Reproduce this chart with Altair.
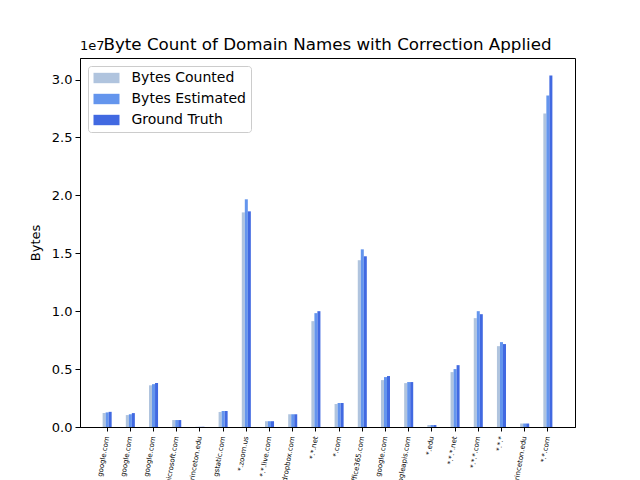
import json
import altair as alt
import pandas as pd

domains = ["google.com", "google.com", "google.com", "microsoft.com", "princeton.edu",
           "gstatic.com", "*.zoom.us", "*.*.live.com", "dropbox.com", "*.*.net",
           "*.com", "office365.com", "google.com", "googleapis.com", "*.edu",
           "*.*.*.net", "*.*.*.com", "*.*.*", "princeton.edu", "*.*.com"]
bytes_counted = [0.121, 0.103, 0.36, 0.06, 0.002, 0.13, 1.853, 0.05, 0.11, 0.914,
                 0.198, 1.44, 0.405, 0.379, 0.017, 0.474, 0.94, 0.698, 0.03, 2.707]
bytes_estimated = [0.126, 0.11, 0.37, 0.06, 0.002, 0.138, 1.966, 0.05, 0.11, 0.983,
                   0.207, 1.534, 0.431, 0.388, 0.017, 0.50, 1.0, 0.733, 0.03, 2.862]
ground_truth = [0.131, 0.12, 0.38, 0.06, 0.002, 0.138, 1.862, 0.05, 0.11, 1.0,
                0.207, 1.474, 0.44, 0.388, 0.017, 0.534, 0.974, 0.716, 0.03, 3.034]
series = ["Bytes Counted", "Bytes Estimated", "Ground Truth"]
colors = ["#B0C4DE", "#6495ED", "#4169E1"]
title_text = "Byte Count of Domain Names with Correction Applied"

rows = []
for i in range(len(domains)):
    for s, vals in zip(series, [bytes_counted, bytes_estimated, ground_truth]):
        rows.append({"idx": i, "series": s, "bytes": vals[i] * 1e7})
df = pd.DataFrame(rows)

font = "DejaVu Sans"
label_expr = json.dumps(domains) + "[datum.value]"
W, H = 495, 369

bars = alt.Chart(df).mark_bar().encode(
    x=alt.X("idx:N", sort=list(range(len(domains))),
            scale=alt.Scale(paddingInner=0.61, paddingOuter=0.975),
            axis=alt.Axis(title=None, labelExpr=label_expr, labelAngle=-80,
                          labelAlign="right", labelBaseline="middle",
                          labelFontSize=7, labelFont=font, labelColor="black",
                          labelPadding=5, tickColor="black", tickSize=4,
                          domainColor="black", labelLimit=0, labelOverlap=False)),
    xOffset=alt.XOffset("series:N", sort=series,
                        scale=alt.Scale(paddingInner=0, paddingOuter=0)),
    y=alt.Y("bytes:Q", scale=alt.Scale(domain=[0, 3.186e7], nice=False, zero=True),
            axis=alt.Axis(title="Bytes", values=[0, 5e6, 1e7, 1.5e7, 2e7, 2.5e7, 3e7],
                          labelExpr="format(datum.value/1e7, '.1f')",
                          labelFontSize=13, labelFont=font, labelColor="black",
                          titleFontSize=13, titleFont=font, titleFontWeight="normal",
                          titleColor="black", titlePadding=9,
                          tickColor="black", tickSize=5, domainColor="black",
                          grid=False, labelPadding=3)),
    color=alt.Color("series:N", sort=series,
                    scale=alt.Scale(domain=series, range=colors),
                    legend=alt.Legend(title=None, orient="none", legendX=8, legendY=8,
                                      labelFontSize=14, labelFont=font,
                                      labelColor="black",
                                      symbolType="M-2,-0.8L2,-0.8L2,0.8L-2,0.8Z",
                                      symbolSize=169, symbolStrokeWidth=0,
                                      symbolOpacity=1, rowPadding=7,
                                      symbolOffset=6.5,
                                      fillColor="white", strokeColor="#cccccc",
                                      cornerRadius=3, padding=5, labelOffset=18)),
)

offset_text = alt.Chart(pd.DataFrame({"t": ["1e7"]})).mark_text(
    align="left", baseline="bottom", fontSize=13, font=font, color="black"
).encode(x=alt.value(0), y=alt.value(-5), text="t:N")

title_mark = alt.Chart(pd.DataFrame({"t": [title_text]})).mark_text(
    align="center", baseline="alphabetic", fontSize=16.7, font=font, color="black"
).encode(x=alt.value(W / 2), y=alt.value(-8), text="t:N")

chart = alt.layer(bars, offset_text, title_mark).properties(
    width=W, height=H,
    autosize=alt.AutoSizeParams(type="none"),
    padding={"left": 72, "top": 50, "right": 57, "bottom": 53},
).configure_view(stroke="black", strokeWidth=1)

chart.save("out.html", embed_options={"renderer": "svg", "actions": False})
